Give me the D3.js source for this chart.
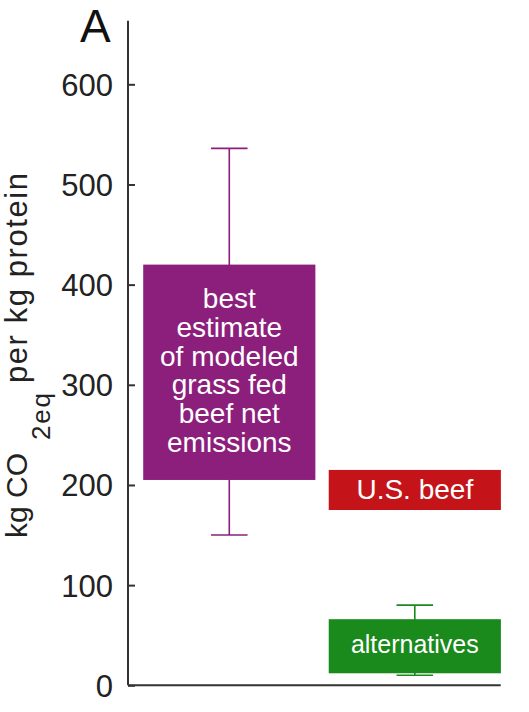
<!DOCTYPE html>
<html>
<head>
<meta charset="utf-8">
<script src="https://cdn.jsdelivr.net/npm/d3@7"></script>
<style>
  body { margin: 0; background: #fff; }
  text { font-family: "Liberation Sans", Arial, Helvetica, sans-serif; }
</style>
</head>
<body>
<div id="vis"></div>
<script>
// values (kg CO2eq per kg protein)
const categories = ["grass fed beef", "U.S. beef", "alternatives"];
const positions = [1, 2, 2];
const boxLow = [205, 175, 12];
const boxHigh = [420, 215, 66];
const whiskerLow = [150, null, 10];
const whiskerHigh = [536, null, 80];
const colors = ["#8b1f7b", "#c4141a", "#1a8a1c"];
const boxLabels = [
    ["best", "estimate", "of modeled", "grass fed", "beef net", "emissions"],
    ["U.S. beef"],
    ["alternatives"]
];
const yTicks = [0, 100, 200, 300, 400, 500, 600];

const width = 529, height = 712;

const svg = d3.select("#vis")
    .append("svg")
    .attr("width", width)
    .attr("height", height);

const x = d3.scaleLinear()
    .domain([0.454, 2.463])
    .range([128, 500.7]);

const y = d3.scaleLinear()
    .domain([0, 663.5])
    .range([685.3, 20.7]);

const boxW = 0.928;   // box width in x units
const capW = 0.197;   // whisker cap width

// y axis, ticks pointing inward
const yAxis = svg.append("g")
    .attr("transform", "translate(" + x(0.454) + ",0)")
    .call(d3.axisRight(y).tickValues(yTicks).tickSize(7).tickFormat(""));
yAxis.select(".domain").remove();
yAxis.selectAll(".tick line").attr("stroke", "#333").attr("stroke-width", 2);

svg.append("line")
    .attr("x1", x(0.454)).attr("x2", x(0.454))
    .attr("y1", y(663.5)).attr("y2", y(0))
    .attr("stroke", "#333").attr("stroke-width", 2);

svg.append("line")
    .attr("x1", x(0.454)).attr("x2", x(2.463))
    .attr("y1", y(0)).attr("y2", y(0))
    .attr("stroke", "#333").attr("stroke-width", 2);

svg.selectAll(".ylab")
    .data(yTicks)
    .enter()
    .append("text")
    .attr("class", "ylab")
    .attr("x", 113)
    .attr("y", (d) => y(d) + 11.5)
    .attr("text-anchor", "end")
    .attr("font-size", 31)
    .attr("fill", "#222")
    .text((d) => d);

// axis title, pieces placed along the rotated baseline (subscript is large in the original)
svg.append("text")
    .attr("transform", "translate(27,538) rotate(-90)")
    .attr("font-size", 30)
    .attr("fill", "#222")
    .text("kg CO");
svg.append("text")
    .attr("transform", "translate(50,440) rotate(-90)")
    .attr("font-size", 26)
    .attr("textLength", 47)
    .attr("lengthAdjust", "spacing")
    .attr("fill", "#222")
    .text("2eq");
svg.append("text")
    .attr("transform", "translate(27,383) rotate(-90)")
    .attr("font-size", 31)
    .attr("textLength", 210)
    .attr("lengthAdjust", "spacing")
    .attr("fill", "#222")
    .text("per kg protein");

svg.append("text")
    .attr("x", 80)
    .attr("y", 41.7)
    .attr("font-size", 46)
    .attr("fill", "#111")
    .text("A");

// whiskers
categories.forEach(function (c, i) {
    if (whiskerLow[i] === null) return;
    const cx = x(positions[i]);
    const g = svg.append("g")
        .attr("stroke", colors[i])
        .attr("stroke-width", 1.6);
    g.append("line")
        .attr("x1", cx).attr("x2", cx)
        .attr("y1", y(whiskerLow[i])).attr("y2", y(whiskerHigh[i]));
    [whiskerLow[i], whiskerHigh[i]].forEach(function (v) {
        g.append("line")
            .attr("x1", x(positions[i] - capW / 2)).attr("x2", x(positions[i] + capW / 2))
            .attr("y1", y(v)).attr("y2", y(v));
    });
});

// boxes
svg.selectAll(".box")
    .data(categories)
    .enter()
    .append("rect")
    .attr("class", "box")
    .attr("x", (d, i) => x(positions[i] - boxW / 2))
    .attr("width", (d, i) => x(positions[i] + boxW / 2) - x(positions[i] - boxW / 2))
    .attr("y", (d, i) => y(boxHigh[i]))
    .attr("height", (d, i) => y(boxLow[i]) - y(boxHigh[i]))
    .attr("fill", (d, i) => colors[i]);

// labels inside boxes
const labelSize = [28, 28, 25];
const labelBase = [308.3, 499.3, 653.3];
categories.forEach(function (c, i) {
    svg.append("text")
        .attr("text-anchor", "middle")
        .attr("font-size", labelSize[i])
        .attr("fill", "#fff")
        .selectAll("tspan")
        .data(boxLabels[i])
        .enter()
        .append("tspan")
        .attr("x", x(positions[i]))
        .attr("y", (d, j) => labelBase[i] + j * 28.7)
        .text((d) => d);
});
</script>
</body>
</html>
